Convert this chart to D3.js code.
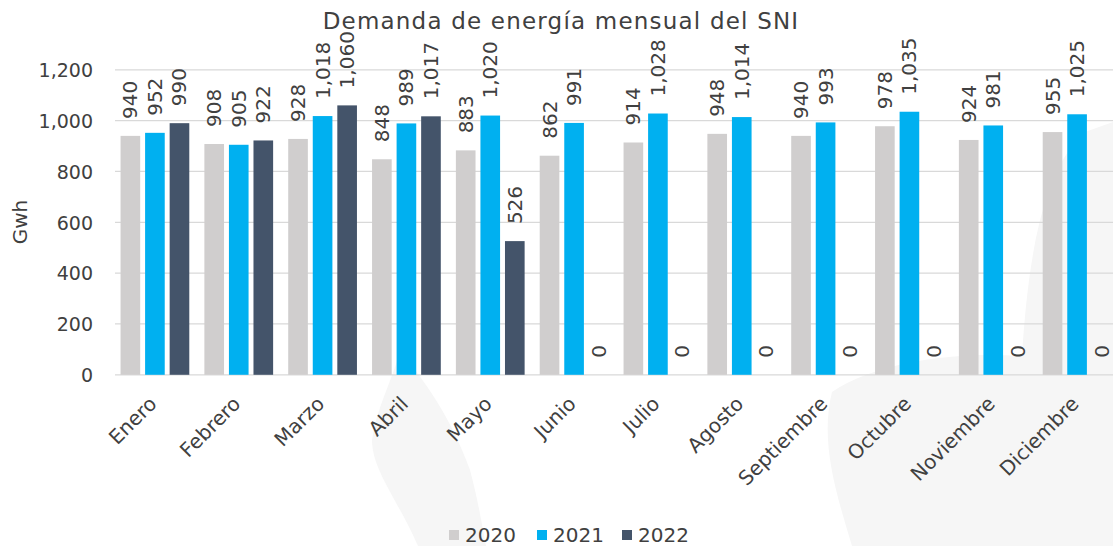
<!DOCTYPE html>
<html>
<head>
<meta charset="utf-8">
<script src="https://cdn.jsdelivr.net/npm/d3@7/dist/d3.min.js"></script>
<style>
  html, body { margin: 0; padding: 0; background: #fff; }
  svg { display: block; }
  text { font-family: "DejaVu Sans", sans-serif; fill: #404040; }
</style>
</head>
<body>
<script>
const months = ["Enero","Febrero","Marzo","Abril","Mayo","Junio","Julio","Agosto","Septiembre","Octubre","Noviembre","Diciembre"];
const seriesNames = ["2020","2021","2022"];
const values2020 = [940, 908, 928, 848, 883, 862, 914, 948, 940, 978, 924, 955];
const values2021 = [952, 905, 1018, 989, 1020, 991, 1028, 1014, 993, 1035, 981, 1025];
const values2022 = [990, 922, 1060, 1017, 526, 0, 0, 0, 0, 0, 0, 0];
const yTicks = [0, 200, 400, 600, 800, 1000, 1200];
const colors = ["#d0cece", "#00b0f0", "#44546a"];
const titleText = "Demanda de energía mensual del SNI";
const yLabel = "Gwh";

const W = 1113, H = 546;
const svg = d3.select("body").append("svg").attr("width", W).attr("height", H);

// faint watermark shapes in the background
const wm = svg.append("g").attr("fill", "#f6f6f6");
wm.append("path").attr("d",
  "M852,546 C835,490 820,440 832,392 C880,360 960,352 1022,356 C1028,260 1042,170 1085,132 L1113,122 L1113,546 Z");
wm.append("path").attr("d",
  "M418,546 C398,500 372,470 372,440 C376,410 392,380 400,352 C425,380 452,420 470,470 C478,500 482,525 486,546 Z");

const x0 = d3.scaleBand().domain(months).range([113, 1119]).paddingInner(0.18).paddingOuter(0.09);
const x1 = d3.scaleBand().domain(seriesNames).range([0, x0.bandwidth()]).paddingInner(0.2);
const y = d3.scaleLinear().domain([0, 1200]).range([374.8, 69.8]);

// gridlines
svg.append("g").selectAll("line").data(yTicks).join("line")
  .attr("x1", 115).attr("x2", W)
  .attr("y1", d => y(d)).attr("y2", d => y(d))
  .attr("stroke", "#d9d9d9").attr("stroke-width", 1.3);

// y axis
const yAxis = d3.axisLeft(y).tickValues(yTicks).tickFormat(d3.format(",")).tickSize(0).tickPadding(0);
const yg = svg.append("g").attr("transform", "translate(93,0)").call(yAxis);
yg.select(".domain").remove();
yg.selectAll("text").attr("font-size", 19).attr("fill", "#404040")
  .attr("dy", "0.36em").style("font-family", '"DejaVu Sans", sans-serif');

// title
svg.append("text").attr("x", 561).attr("y", 29).attr("text-anchor", "middle")
  .attr("font-size", 23).attr("letter-spacing", 1.2).text(titleText);

// y label
svg.append("text").attr("transform", "translate(27,222) rotate(-90)")
  .attr("text-anchor", "middle").attr("font-size", 20).text(yLabel);

const data = months.map((m, i) => ({ month: m, vals: [values2020[i], values2021[i], values2022[i]] }));

const groups = svg.append("g").selectAll("g").data(data).join("g")
  .attr("transform", d => `translate(${x0(d.month)},0)`);

groups.selectAll("rect").data(d => d.vals.map((v, j) => ({ v, s: seriesNames[j], j })))
  .join("rect")
  .attr("x", d => x1(d.s)).attr("width", x1.bandwidth())
  .attr("y", d => y(d.v)).attr("height", d => y(0) - y(d.v))
  .attr("fill", d => colors[d.j]);

groups.selectAll("text.lbl").data(d => d.vals.map((v, j) => ({ v, s: seriesNames[j], j })))
  .join("text").attr("class", "lbl")
  .attr("transform", d => `translate(${x1(d.s) + x1.bandwidth() / 2},${y(d.v) - 17}) rotate(-90)`)
  .attr("text-anchor", "start").attr("dy", "0.35em").attr("font-size", 20)
  .text(d => d3.format(",")(d.v));

// x axis labels
svg.append("g").selectAll("text").data(months).join("text")
  .attr("transform", d => `translate(${x0(d) + x0.bandwidth() / 2 + 3},405) rotate(-45)`)
  .attr("text-anchor", "end").attr("font-size", 20).text(d => d);

// legend
const legX = [449, 537, 622];
const leg = svg.append("g").selectAll("g").data(seriesNames).join("g")
  .attr("transform", (d, i) => `translate(${legX[i]},530)`);
leg.append("rect").attr("width", 10).attr("height", 10).attr("fill", (d, i) => colors[i]);
leg.append("text").attr("x", 16).attr("y", 12).attr("font-size", 20).text(d => d);
</script>
</body>
</html>
